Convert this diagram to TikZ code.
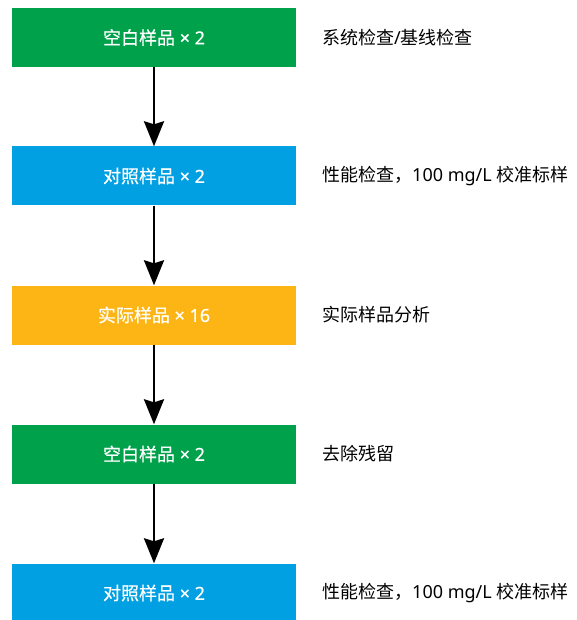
\documentclass[tikz,border=0pt]{standalone}
\usepackage{fontspec}
\setmainfont{Noto Sans CJK SC}
\newfontfamily\lat{Noto Sans}
\newfontfamily\boxcjk[FakeBold=0.5]{Noto Sans CJK SC}
\newfontfamily\boxlat[FakeBold=0.5]{Noto Sans}
\usetikzlibrary{arrows.meta}
\definecolor{cgreen}{RGB}{0,161,75}
\definecolor{cblue}{RGB}{0,160,227}
\definecolor{corange}{RGB}{253,181,21}
\tikzset{
  stepbox/.style={minimum width=284pt, minimum height=59pt, inner sep=0pt, text=white, font=\boxcjk\fontsize{18pt}{21pt}\selectfont},
  note/.style={anchor=west, inner sep=0pt, text=black, font=\fontsize{18pt}{21pt}\selectfont},
  flow/.style={line width=2.6pt, -{Stealth[width=20pt,length=25pt,inset=3pt]}}
}
\begin{document}
\begin{tikzpicture}[x=1pt,y=-1pt]
\useasboundingbox (0,0) rectangle (576,620);
\node[stepbox, fill=cgreen] (b1) at (154,37.5) {空白样品{\boxlat\ × 2}};
\node[stepbox, fill=cblue] (b2) at (154,176) {对照样品{\boxlat\ × 2}};
\node[stepbox, fill=corange] (b3) at (154,315) {实际样品{\boxlat\ × 16}};
\node[stepbox, fill=cgreen] (b4) at (154,454) {空白样品{\boxlat\ × 2}};
\node[stepbox, fill=cblue] (b5) at (154,593) {对照样品{\boxlat\ × 2}};
\node[note] (n1) at (322,37.5) {系统检查{\lat /}基线检查};
\node[note] (n2) at (322,176) {性能检查，{\lat 100 mg/L }校准标样};
\node[note] (n3) at (322,315) {实际样品分析};
\node[note] (n4) at (322,454) {去除残留};
\node[note] (n5) at (322,593) {性能检查，{\lat 100 mg/L }校准标样};
\draw[flow] (b1.south) -- (b2.north);
\draw[flow] (b2.south) -- (b3.north);
\draw[flow] (b3.south) -- (b4.north);
\draw[flow] (b4.south) -- (b5.north);
\end{tikzpicture}
\end{document}
